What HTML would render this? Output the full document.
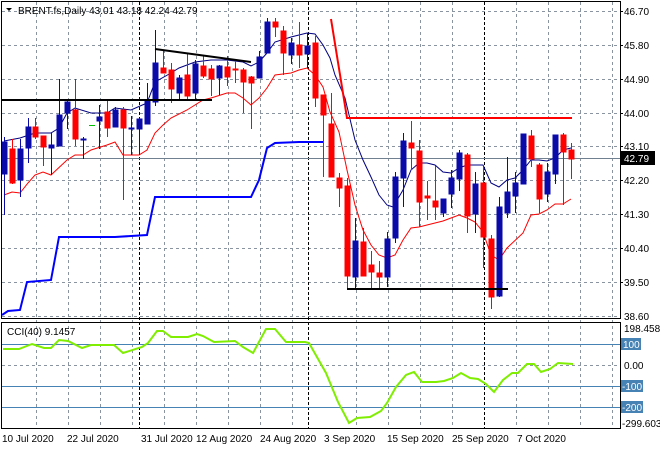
<!DOCTYPE html>
<html><head><meta charset="utf-8"><style>
html,body{margin:0;padding:0;background:#fff;}
svg{display:block;font-family:"Liberation Sans",sans-serif;font-size:10px;}
</style></head><body>
<svg width="660" height="450" viewBox="0 0 660 450" xmlns="http://www.w3.org/2000/svg">
<rect width="660" height="450" fill="#fff"/>
<!-- grid main -->
<g stroke="#8a94a0" stroke-width="1" stroke-dasharray="3,3">
<line x1="2" y1="11.5" x2="620" y2="11.5"/><line x1="2" y1="45.5" x2="620" y2="45.5"/><line x1="2" y1="79.5" x2="620" y2="79.5"/><line x1="2" y1="113.5" x2="620" y2="113.5"/><line x1="2" y1="146.5" x2="620" y2="146.5"/><line x1="2" y1="180.5" x2="620" y2="180.5"/><line x1="2" y1="214.5" x2="620" y2="214.5"/><line x1="2" y1="248.5" x2="620" y2="248.5"/><line x1="2" y1="282.5" x2="620" y2="282.5"/><line x1="2" y1="316.5" x2="620" y2="316.5"/>
<line x1="2" y1="365.5" x2="620" y2="365.5"/>
</g>
<g stroke="#8a94a0" stroke-width="1" stroke-dasharray="3,3">
<line x1="36.5" y1="2" x2="36.5" y2="428"/><line x1="68.5" y1="2" x2="68.5" y2="428"/><line x1="100.5" y1="2" x2="100.5" y2="428"/><line x1="132.5" y1="2" x2="132.5" y2="428"/><line x1="164.5" y1="2" x2="164.5" y2="428"/><line x1="196.5" y1="2" x2="196.5" y2="428"/><line x1="228.5" y1="2" x2="228.5" y2="428"/><line x1="260.5" y1="2" x2="260.5" y2="428"/><line x1="292.5" y1="2" x2="292.5" y2="428"/><line x1="356.5" y1="2" x2="356.5" y2="428"/><line x1="388.5" y1="2" x2="388.5" y2="428"/><line x1="420.5" y1="2" x2="420.5" y2="428"/><line x1="452.5" y1="2" x2="452.5" y2="428"/><line x1="516.5" y1="2" x2="516.5" y2="428"/><line x1="548.5" y1="2" x2="548.5" y2="428"/><line x1="580.5" y1="2" x2="580.5" y2="428"/><line x1="612.5" y1="2" x2="612.5" y2="428"/>
</g>
<g stroke="#000" stroke-width="1" stroke-dasharray="3,2">
<line x1="139.5" y1="2" x2="139.5" y2="428"/><line x1="308.5" y1="2" x2="308.5" y2="428"/><line x1="484.5" y1="2" x2="484.5" y2="428"/>
</g>
<!-- current price line -->
<line x1="2" y1="158.5" x2="620" y2="158.5" stroke="#708090" stroke-width="1"/>
<!-- blue step -->
<polyline fill="none" stroke="#0000ff" stroke-width="2" points="2,315 8,311 20,310 27,282 51,280 59,237 115,237 147,235 155,197 251,197 259,180 267,148 275,143 299,142 323,142"/>
<!-- navy MA -->
<polyline fill="none" stroke="#000080" stroke-width="1" points="4,141 20,138 35,133 51,133 59,128 67,113 75,108 91,113 107,113 115,108 131,110 147,103 155,82 171,73 179,68 195,62 211,60 227,60 243,62 251,66 259,62 267,53 275,42 291,37 307,33 315,34 323,45 330,58 335,75 345,98 355,140 363,160 371,177 379,195 387,205 393,207 403,190 411,170 419,163 427,163 435,165 443,172 451,173 459,168 467,165 475,165 483,165 491,183 499,187 507,180 515,178 523,170 531,160 539,160 547,161 555,158 563,150 571,148"/>
<!-- red MA -->
<polyline fill="none" stroke="#ff0000" stroke-width="1" points="4,195 12,192 20,193 28,183 35,175 43,172 51,175 67,160 75,155 83,155 91,150 107,145 115,142 123,155 139,155 147,150 155,133 163,125 171,118 187,110 203,100 211,98 227,93 235,93 243,98 251,105 259,98 267,88 275,75 291,73 299,70 307,68 315,75 323,87 330,112 339,132 347,170 355,205 363,230 371,245 379,255 387,258 395,255 403,240 411,228 419,227 427,225 435,223 443,221 451,218 459,215 467,218 475,222 483,232 491,255 499,260 507,248 523,233 531,215 539,214 547,210 555,204 563,204 571,199"/>
<!-- candles -->
<g id="c" stroke-width="1">
<g stroke="#0a0aa8" fill="#0a0aa8">
<line x1="4.5" y1="137" x2="4.5" y2="215"/><rect x="2" y="142" width="5" height="32"/>
<line x1="20.5" y1="139" x2="20.5" y2="197"/><rect x="18" y="149" width="5" height="31"/>
<line x1="28.5" y1="118" x2="28.5" y2="163"/><rect x="26" y="127" width="5" height="21"/>
<line x1="51.5" y1="133" x2="51.5" y2="175"/><rect x="49" y="145" width="5" height="3"/>
<line x1="59.5" y1="79" x2="59.5" y2="146"/><rect x="57" y="115" width="5" height="31"/>
<line x1="67.5" y1="99" x2="67.5" y2="129"/><rect x="65" y="102" width="5" height="11"/>
<line x1="83.5" y1="137" x2="83.5" y2="159"/><rect x="81" y="139" width="5" height="1"/>
<line x1="99.5" y1="105" x2="99.5" y2="149"/><rect x="97" y="117" width="5" height="4"/>
<line x1="115.5" y1="107" x2="115.5" y2="127"/><rect x="113" y="110" width="5" height="17"/>
<line x1="131.5" y1="116" x2="131.5" y2="155"/><rect x="129" y="128" width="5" height="1"/>
<line x1="139.5" y1="118" x2="139.5" y2="155"/><rect x="137" y="119" width="5" height="10"/>
<line x1="147.5" y1="83" x2="147.5" y2="124"/><rect x="145" y="100" width="5" height="24"/>
<line x1="155.5" y1="30" x2="155.5" y2="106"/><rect x="153" y="63" width="5" height="39"/>
<line x1="179.5" y1="75" x2="179.5" y2="99"/><rect x="177" y="78" width="5" height="15"/>
<line x1="195.5" y1="60" x2="195.5" y2="99"/><rect x="193" y="64" width="5" height="29"/>
<line x1="219.5" y1="65" x2="219.5" y2="95"/><rect x="217" y="66" width="5" height="12"/>
<line x1="259.5" y1="51" x2="259.5" y2="78"/><rect x="257" y="57" width="5" height="21"/>
<line x1="267.5" y1="18" x2="267.5" y2="53"/><rect x="265" y="22" width="5" height="31"/>
<line x1="291.5" y1="38" x2="291.5" y2="64"/><rect x="289" y="43" width="5" height="12"/>
<line x1="307.5" y1="33" x2="307.5" y2="68"/><rect x="305" y="46" width="5" height="8"/>
<line x1="355.5" y1="218" x2="355.5" y2="290"/><rect x="353" y="241" width="5" height="36"/>
<line x1="387.5" y1="232" x2="387.5" y2="287"/><rect x="385" y="239" width="5" height="38"/>
<line x1="395.5" y1="172" x2="395.5" y2="243"/><rect x="393" y="177" width="5" height="61"/>
<line x1="403.5" y1="133" x2="403.5" y2="207"/><rect x="401" y="141" width="5" height="37"/>
<line x1="443.5" y1="199" x2="443.5" y2="217"/><rect x="441" y="199" width="5" height="14"/>
<line x1="451.5" y1="170" x2="451.5" y2="208"/><rect x="449" y="178" width="5" height="16"/>
<line x1="459.5" y1="150" x2="459.5" y2="191"/><rect x="457" y="153" width="5" height="26"/>
<line x1="475.5" y1="172" x2="475.5" y2="233"/><rect x="473" y="184" width="5" height="30"/>
<line x1="499.5" y1="197" x2="499.5" y2="297"/><rect x="497" y="207" width="5" height="89"/>
<line x1="507.5" y1="157" x2="507.5" y2="218"/><rect x="505" y="192" width="5" height="21"/>
<line x1="515.5" y1="172" x2="515.5" y2="213"/><rect x="513" y="183" width="5" height="13"/>
<line x1="523.5" y1="134" x2="523.5" y2="184"/><rect x="521" y="134" width="5" height="50"/>
<line x1="547.5" y1="163" x2="547.5" y2="202"/><rect x="545" y="172" width="5" height="22"/>
<line x1="555.5" y1="135" x2="555.5" y2="184"/><rect x="553" y="135" width="5" height="39"/>
</g>
<g stroke="#ff0000" fill="#ff0000">
<line x1="12.5" y1="139" x2="12.5" y2="184"/><rect x="10" y="149" width="5" height="34"/>
<line x1="35.5" y1="118" x2="35.5" y2="139"/><rect x="33" y="127" width="5" height="10"/>
<line x1="43.5" y1="136" x2="43.5" y2="166"/><rect x="41" y="136" width="5" height="11"/>
<line x1="75.5" y1="79" x2="75.5" y2="146"/><rect x="73" y="110" width="5" height="29"/>
<line x1="107.5" y1="100" x2="107.5" y2="137"/><rect x="105" y="112" width="5" height="16"/>
<line x1="123.5" y1="107" x2="123.5" y2="200"/><rect x="121" y="110" width="5" height="18"/>
<line x1="163.5" y1="50" x2="163.5" y2="73"/><rect x="161" y="68" width="5" height="5"/>
<line x1="171.5" y1="63" x2="171.5" y2="103"/><rect x="169" y="70" width="5" height="19"/>
<line x1="187.5" y1="53" x2="187.5" y2="99"/><rect x="185" y="75" width="5" height="21"/>
<line x1="203.5" y1="55" x2="203.5" y2="78"/><rect x="201" y="66" width="5" height="10"/>
<line x1="211.5" y1="65" x2="211.5" y2="96"/><rect x="209" y="69" width="5" height="10"/>
<line x1="227.5" y1="56" x2="227.5" y2="86"/><rect x="225" y="67" width="5" height="10"/>
<line x1="235.5" y1="59" x2="235.5" y2="83"/><rect x="233" y="69" width="5" height="1"/>
<line x1="243.5" y1="68" x2="243.5" y2="113"/><rect x="241" y="70" width="5" height="12"/>
<line x1="251.5" y1="76" x2="251.5" y2="129"/><rect x="249" y="77" width="5" height="6"/>
<line x1="275.5" y1="18" x2="275.5" y2="37"/><rect x="273" y="22" width="5" height="5"/>
<line x1="283.5" y1="26" x2="283.5" y2="75"/><rect x="281" y="31" width="5" height="22"/>
<line x1="299.5" y1="22" x2="299.5" y2="68"/><rect x="297" y="45" width="5" height="10"/>
<line x1="315.5" y1="36" x2="315.5" y2="107"/><rect x="313" y="43" width="5" height="55"/>
<line x1="323.5" y1="95" x2="323.5" y2="177"/><rect x="321" y="95" width="5" height="20"/>
<line x1="331.5" y1="93" x2="331.5" y2="177"/><rect x="329" y="124" width="5" height="53"/>
<line x1="339.5" y1="173" x2="339.5" y2="207"/><rect x="337" y="178" width="5" height="10"/>
<line x1="347.5" y1="178" x2="347.5" y2="290"/><rect x="345" y="186" width="5" height="90"/>
<line x1="363.5" y1="228" x2="363.5" y2="276"/><rect x="361" y="242" width="5" height="34"/>
<line x1="371.5" y1="251" x2="371.5" y2="288"/><rect x="369" y="265" width="5" height="7"/>
<line x1="379.5" y1="261" x2="379.5" y2="290"/><rect x="377" y="273" width="5" height="4"/>
<line x1="411.5" y1="121" x2="411.5" y2="170"/><rect x="409" y="143" width="5" height="5"/>
<line x1="419.5" y1="140" x2="419.5" y2="227"/><rect x="417" y="151" width="5" height="51"/>
<line x1="427.5" y1="181" x2="427.5" y2="220"/><rect x="425" y="196" width="5" height="2"/>
<line x1="435.5" y1="166" x2="435.5" y2="220"/><rect x="433" y="201" width="5" height="6"/>
<line x1="467.5" y1="153" x2="467.5" y2="233"/><rect x="465" y="155" width="5" height="61"/>
<line x1="483.5" y1="167" x2="483.5" y2="268"/><rect x="481" y="183" width="5" height="54"/>
<line x1="491.5" y1="235" x2="491.5" y2="309"/><rect x="489" y="239" width="5" height="58"/>
<line x1="531.5" y1="130" x2="531.5" y2="167"/><rect x="529" y="136" width="5" height="23"/>
<line x1="539.5" y1="163" x2="539.5" y2="213"/><rect x="537" y="165" width="5" height="34"/>
<line x1="563.5" y1="133" x2="563.5" y2="205"/><rect x="561" y="135" width="5" height="17"/>
<line x1="571.5" y1="143" x2="571.5" y2="179"/><rect x="569" y="150" width="5" height="9"/>
</g>
<line x1="89" y1="125.5" x2="95" y2="125.5" stroke="#00c000"/>
</g>
<!-- drawn lines -->
<line x1="2" y1="100" x2="212" y2="100" stroke="#000" stroke-width="2"/>
<line x1="155" y1="49" x2="251" y2="62" stroke="#000" stroke-width="2"/>
<line x1="347" y1="289" x2="508" y2="289" stroke="#000" stroke-width="2"/>
<polyline fill="none" stroke="#ff0000" stroke-width="2" points="331,19 347,118 572,118"/>
<!-- title -->
<polygon points="6,8 12,8 9,11" fill="#000"/>
<text x="18" y="14" fill="#000">BRENT.fs,Daily  43.01 43.18 42.24 42.79</text>
<!-- frame -->
<rect x="1.5" y="1.5" width="619" height="317" fill="none" stroke="#000"/>
<rect x="1.5" y="322.5" width="619" height="106" fill="none" stroke="#000"/>
<!-- price axis -->
<g fill="#000">
<text x="624" y="15">46.70</text><text x="624" y="49">45.80</text><text x="624" y="83">44.90</text><text x="624" y="117">44.00</text><text x="624" y="150">43.10</text><text x="624" y="184">42.20</text><text x="624" y="218">41.30</text><text x="624" y="252">40.40</text><text x="624" y="286">39.50</text><text x="624" y="320">38.60</text>
</g>
<rect x="621" y="151" width="34" height="14" fill="#000"/>
<text x="624" y="162" fill="#fff">42.79</text>
<g stroke="#000"><line x1="620" y1="11.5" x2="623" y2="11.5"/><line x1="620" y1="45.5" x2="623" y2="45.5"/><line x1="620" y1="79.5" x2="623" y2="79.5"/><line x1="620" y1="113.5" x2="623" y2="113.5"/><line x1="620" y1="146.5" x2="623" y2="146.5"/><line x1="620" y1="180.5" x2="623" y2="180.5"/><line x1="620" y1="214.5" x2="623" y2="214.5"/><line x1="620" y1="248.5" x2="623" y2="248.5"/><line x1="620" y1="282.5" x2="623" y2="282.5"/></g>
<!-- CCI levels -->
<g stroke="#4682b4" stroke-width="1">
<line x1="2" y1="344.5" x2="620" y2="344.5"/><line x1="2" y1="386.5" x2="620" y2="386.5"/><line x1="2" y1="407.5" x2="620" y2="407.5"/>
</g>
<polyline fill="none" stroke="#7fee00" stroke-width="2" points="3,349 19,349 32,344 44,348 51,348 59,340 68,341 82,348 91,345 114,345 123,353 142,347 148,343 157,331 163,331 171,337 188,337 197,334 203,336 214,342 235,341 243,347 253,353 266,329 275,329 286,342 305,342 309,343 326,373 338,402 349,423 357,418 370,417 381,411 387,403 396,387 406,375 414,372 422,382 436,382 444,381 453,378 461,373 470,378 478,379 486,384 494,392 503,380 512,373 518,373 527,364 534,364 541,372 550,369 558,363 573,364"/>
<text x="7" y="335" fill="#000">CCI(40) 9.1457</text>
<g fill="#000">
<text x="624" y="332">198.4581</text><text x="624" y="369">0.00</text><text x="622" y="427">-299.603</text>
</g>
<rect x="621" y="338" width="20" height="12" fill="#4682b4"/><text x="623" y="348" fill="#fff">100</text>
<rect x="621" y="380" width="22" height="12" fill="#4682b4"/><text x="622" y="390" fill="#fff">-100</text>
<rect x="621" y="401" width="22" height="12" fill="#4682b4"/><text x="622" y="411" fill="#fff">-200</text>
<!-- dates -->
<g fill="#000">
<text x="2" y="442">10 Jul 2020</text><text x="67" y="442">22 Jul 2020</text><text x="141" y="442">31 Jul 2020</text><text x="196" y="442">12 Aug 2020</text><text x="260" y="442">24 Aug 2020</text><text x="324" y="442">3 Sep 2020</text><text x="387" y="442">15 Sep 2020</text><text x="452" y="442">25 Sep 2020</text><text x="517" y="442">7 Oct 2020</text>
</g>
</svg>
</body></html>
